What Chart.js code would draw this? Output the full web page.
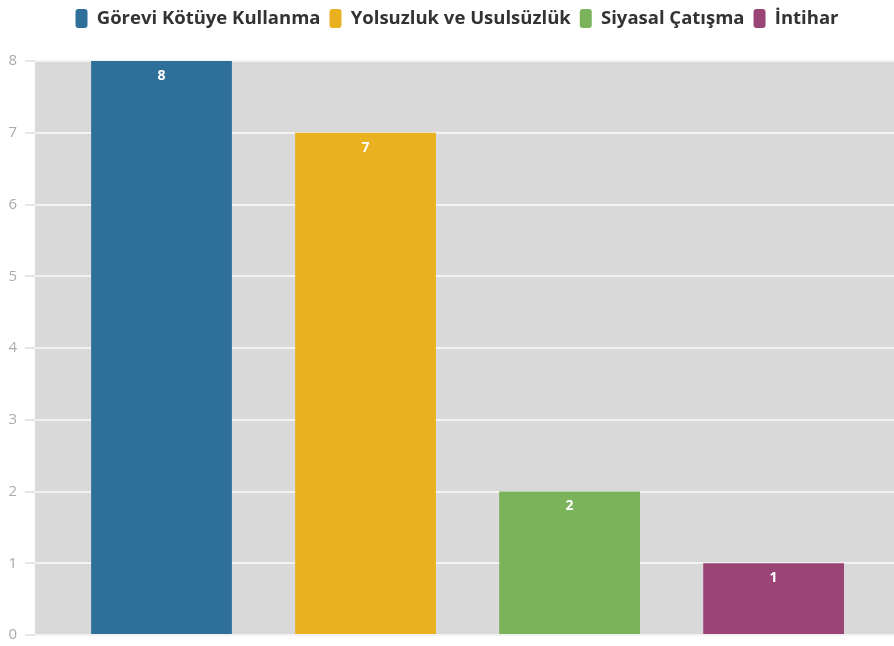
<!DOCTYPE html>
<html lang="tr">
<head>
    <meta charset="UTF-8">
    <title>Chart</title>
    <script src="https://cdn.jsdelivr.net/npm/chart.js"></script>
    <style>
        html, body {
            margin: 0;
            padding: 0;
            background: #ffffff;
        }

        .chart-container {
            position: relative;
            width: 894px;
            height: 646px;
        }
    </style>
</head>
<body>
    <div class="chart-container">
        <canvas id="reasonChart"></canvas>
    </div>

    <script>
        // Data
        const categories = ['Görevi Kötüye Kullanma', 'Yolsuzluk ve Usulsüzlük', 'Siyasal Çatışma', 'İntihar'];
        const counts = [8, 7, 2, 1];
        const barColors = ['#2f709b', '#e9b11f', '#7bb35a', '#9b4577'];
        const yTicks = [0, 1, 2, 3, 4, 5, 6, 7, 8];

        // grey plot background
        const plotBackground = {
            id: 'plotBackground',
            beforeInit(chart) {
                // extra room between legend and plot
                const fit = chart.legend.fit;
                chart.legend.fit = function () {
                    fit.bind(chart.legend)();
                    this.height += 23;
                };
            },
            afterLayout(chart) {
                // legend sits a little right of centre
                chart.legend.left += 10;
                chart.legend.right += 10;
            },
            beforeDraw(chart) {
                const { ctx, chartArea } = chart;
                ctx.save();
                ctx.fillStyle = '#d9d9d9';
                ctx.fillRect(chartArea.left, chartArea.top, chartArea.right - chartArea.left, chartArea.bottom - chartArea.top);
                ctx.restore();
            }
        };

        // value labels inside the top of each bar
        const barValues = {
            id: 'barValues',
            afterDatasetsDraw(chart) {
                const { ctx } = chart;
                ctx.save();
                ctx.fillStyle = '#ffffff';
                ctx.font = 'bold 14px "Open Sans"';
                ctx.textAlign = 'center';
                ctx.textBaseline = 'middle';
                chart.data.datasets.forEach((ds, i) => {
                    const meta = chart.getDatasetMeta(i);
                    meta.data.forEach((bar, j) => {
                        ctx.fillText(ds.data[j].y, bar.x, bar.y + 15);
                    });
                });
                ctx.restore();
            }
        };

        const datasets = categories.map((name, i) => ({
            label: name,
            data: [{ x: i, y: counts[i] }],
            backgroundColor: barColors[i],
            borderWidth: 0,
            grouped: false,
            barPercentage: 0.69,
            categoryPercentage: 1
        }));

        new Chart(document.getElementById('reasonChart'), {
            type: 'bar',
            data: { datasets: datasets },
            options: {
                responsive: true,
                maintainAspectRatio: false,
                animation: false,
                layout: {
                    padding: { top: 0, right: 0, bottom: 11, left: 0 }
                },
                plugins: {
                    legend: {
                        position: 'top',
                        labels: {
                            boxWidth: 12,
                            boxHeight: 19,
                            useBorderRadius: true,
                            borderRadius: 3,
                            padding: 9,
                            color: '#333333',
                            font: { family: '"Open Sans"', size: 18.5, weight: 'bold' }
                        }
                    },
                    tooltip: { enabled: false }
                },
                scales: {
                    x: {
                        type: 'linear',
                        display: false,
                        offset: false,
                        min: -0.62,
                        max: 3.59,
                        afterBuildTicks(scale) { scale.ticks = categories.map((c, i) => ({ value: i })); }
                    },
                    y: {
                        min: 0,
                        max: 8,
                        afterFit(scale) {
                            scale.width = 35;
                            scale.paddingTop = 0;
                            scale.paddingBottom = 0;
                        },
                        afterBuildTicks(scale) { scale.ticks = yTicks.map(v => ({ value: v })); },
                        border: { display: false },
                        grid: {
                            color: '#f2f2f2',
                            lineWidth: 2,
                            tickColor: '#e6e6e6',
                            tickLength: 10
                        },
                        ticks: {
                            color: '#ababab',
                            padding: 8,
                            font: { family: '"Open Sans"', size: 15 }
                        }
                    }
                }
            },
            plugins: [plotBackground, barValues]
        });
    </script>
</body>
</html>
